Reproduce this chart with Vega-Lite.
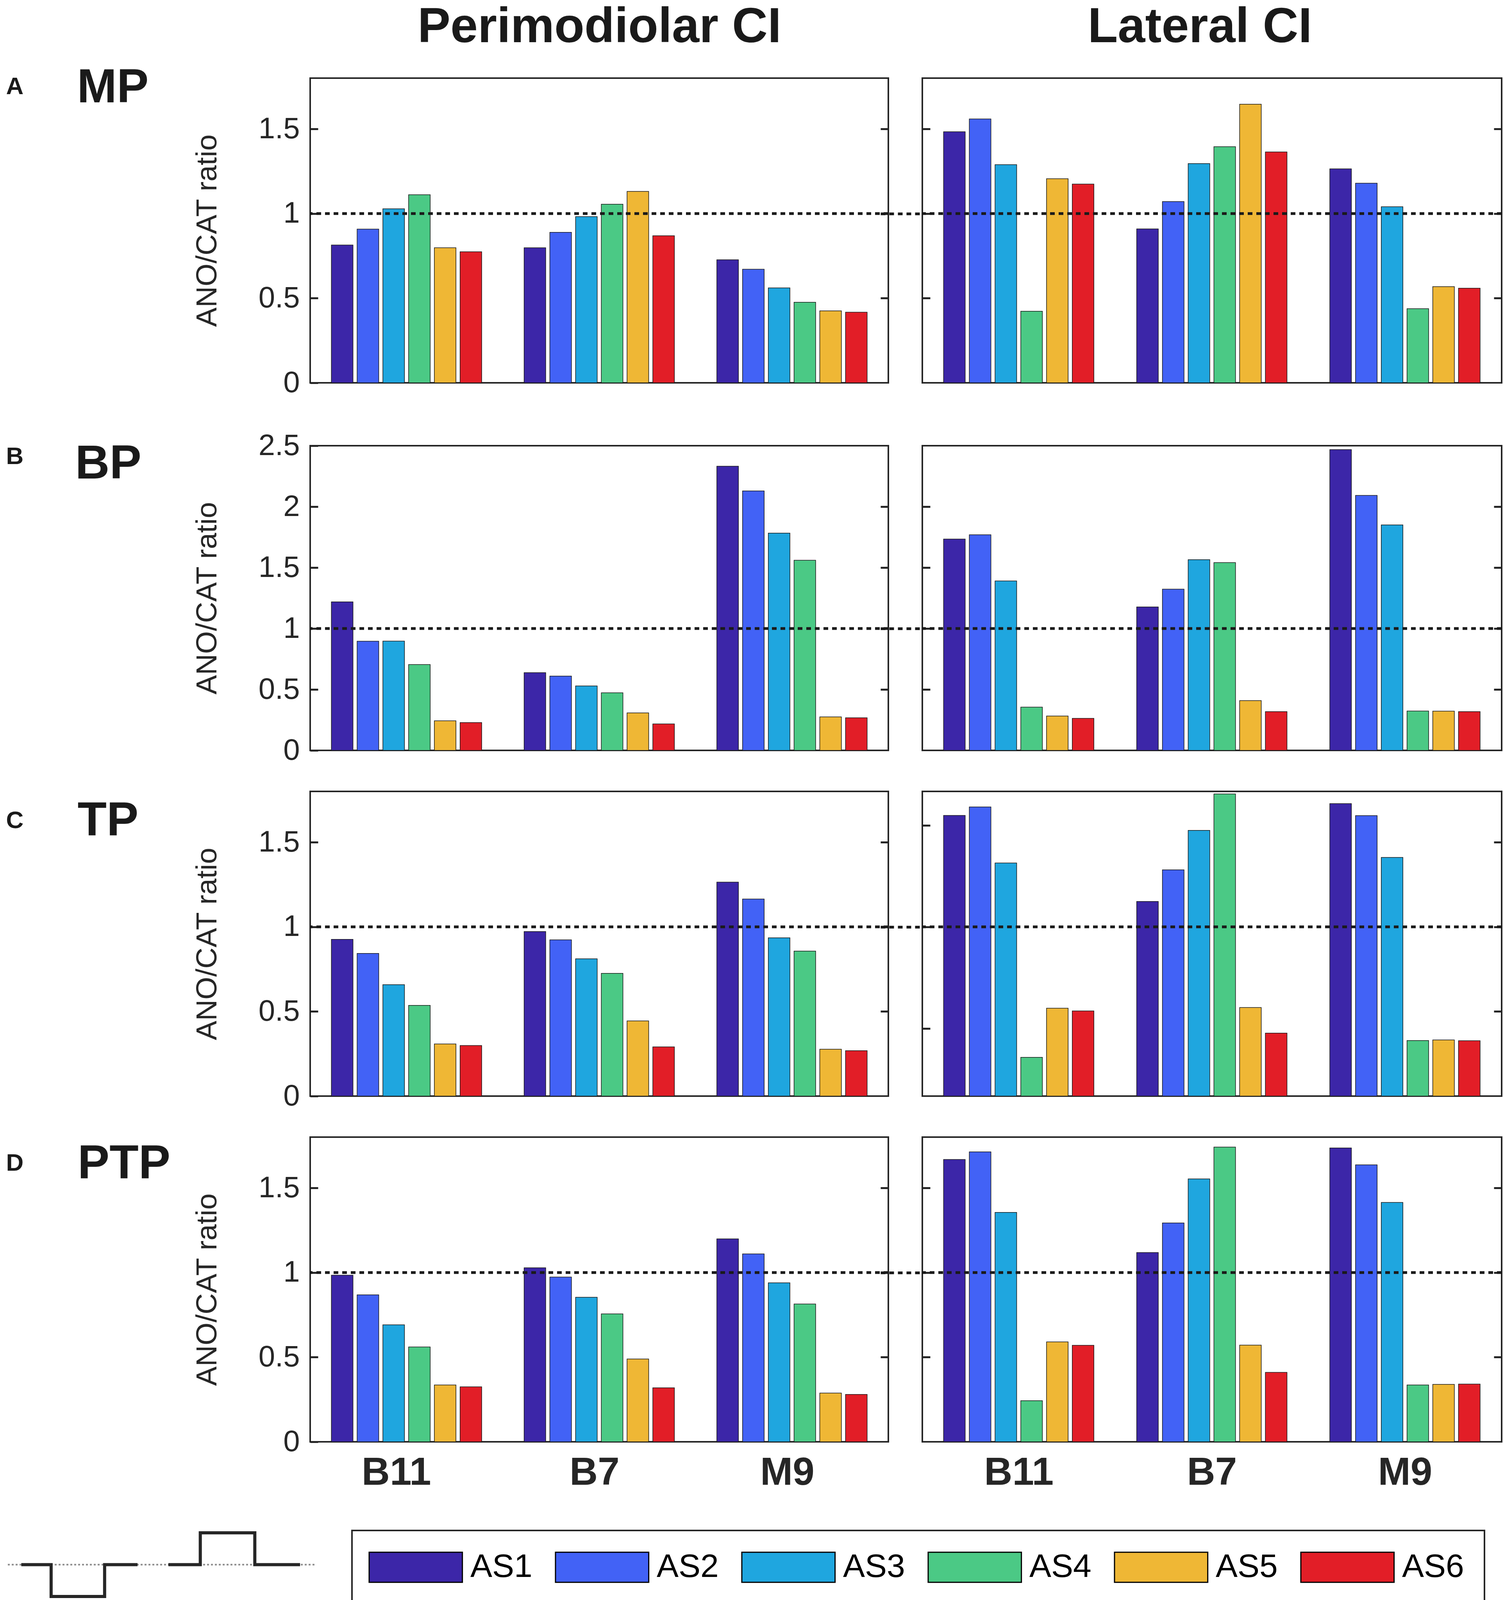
{
  "$schema": "https://vega.github.io/schema/vega-lite/v6.json",
  "background": "white",
  "padding": {"left": 13, "top": 4, "right": 0, "bottom": 0},
  "autosize": {"type": "pad"},
  "datasets": {
    "ratios": [
      {"pulse": "MP", "ci": "Perimodiolar", "electrode": "B11", "as": "AS1", "ratio": 0.814},
      {"pulse": "MP", "ci": "Perimodiolar", "electrode": "B11", "as": "AS2", "ratio": 0.908},
      {"pulse": "MP", "ci": "Perimodiolar", "electrode": "B11", "as": "AS3", "ratio": 1.028},
      {"pulse": "MP", "ci": "Perimodiolar", "electrode": "B11", "as": "AS4", "ratio": 1.111},
      {"pulse": "MP", "ci": "Perimodiolar", "electrode": "B11", "as": "AS5", "ratio": 0.798},
      {"pulse": "MP", "ci": "Perimodiolar", "electrode": "B11", "as": "AS6", "ratio": 0.774},
      {"pulse": "MP", "ci": "Perimodiolar", "electrode": "B7", "as": "AS1", "ratio": 0.798},
      {"pulse": "MP", "ci": "Perimodiolar", "electrode": "B7", "as": "AS2", "ratio": 0.889},
      {"pulse": "MP", "ci": "Perimodiolar", "electrode": "B7", "as": "AS3", "ratio": 0.982},
      {"pulse": "MP", "ci": "Perimodiolar", "electrode": "B7", "as": "AS4", "ratio": 1.055},
      {"pulse": "MP", "ci": "Perimodiolar", "electrode": "B7", "as": "AS5", "ratio": 1.131},
      {"pulse": "MP", "ci": "Perimodiolar", "electrode": "B7", "as": "AS6", "ratio": 0.869},
      {"pulse": "MP", "ci": "Perimodiolar", "electrode": "M9", "as": "AS1", "ratio": 0.727},
      {"pulse": "MP", "ci": "Perimodiolar", "electrode": "M9", "as": "AS2", "ratio": 0.671},
      {"pulse": "MP", "ci": "Perimodiolar", "electrode": "M9", "as": "AS3", "ratio": 0.561},
      {"pulse": "MP", "ci": "Perimodiolar", "electrode": "M9", "as": "AS4", "ratio": 0.476},
      {"pulse": "MP", "ci": "Perimodiolar", "electrode": "M9", "as": "AS5", "ratio": 0.425},
      {"pulse": "MP", "ci": "Perimodiolar", "electrode": "M9", "as": "AS6", "ratio": 0.417},
      {"pulse": "MP", "ci": "Lateral", "electrode": "B11", "as": "AS1", "ratio": 1.483},
      {"pulse": "MP", "ci": "Lateral", "electrode": "B11", "as": "AS2", "ratio": 1.559},
      {"pulse": "MP", "ci": "Lateral", "electrode": "B11", "as": "AS3", "ratio": 1.289},
      {"pulse": "MP", "ci": "Lateral", "electrode": "B11", "as": "AS4", "ratio": 0.423},
      {"pulse": "MP", "ci": "Lateral", "electrode": "B11", "as": "AS5", "ratio": 1.206},
      {"pulse": "MP", "ci": "Lateral", "electrode": "B11", "as": "AS6", "ratio": 1.174},
      {"pulse": "MP", "ci": "Lateral", "electrode": "B7", "as": "AS1", "ratio": 0.909},
      {"pulse": "MP", "ci": "Lateral", "electrode": "B7", "as": "AS2", "ratio": 1.071},
      {"pulse": "MP", "ci": "Lateral", "electrode": "B7", "as": "AS3", "ratio": 1.295},
      {"pulse": "MP", "ci": "Lateral", "electrode": "B7", "as": "AS4", "ratio": 1.395},
      {"pulse": "MP", "ci": "Lateral", "electrode": "B7", "as": "AS5", "ratio": 1.646},
      {"pulse": "MP", "ci": "Lateral", "electrode": "B7", "as": "AS6", "ratio": 1.364},
      {"pulse": "MP", "ci": "Lateral", "electrode": "M9", "as": "AS1", "ratio": 1.264},
      {"pulse": "MP", "ci": "Lateral", "electrode": "M9", "as": "AS2", "ratio": 1.179},
      {"pulse": "MP", "ci": "Lateral", "electrode": "M9", "as": "AS3", "ratio": 1.040},
      {"pulse": "MP", "ci": "Lateral", "electrode": "M9", "as": "AS4", "ratio": 0.438},
      {"pulse": "MP", "ci": "Lateral", "electrode": "M9", "as": "AS5", "ratio": 0.568},
      {"pulse": "MP", "ci": "Lateral", "electrode": "M9", "as": "AS6", "ratio": 0.559},
      {"pulse": "BP", "ci": "Perimodiolar", "electrode": "B11", "as": "AS1", "ratio": 1.219},
      {"pulse": "BP", "ci": "Perimodiolar", "electrode": "B11", "as": "AS2", "ratio": 0.896},
      {"pulse": "BP", "ci": "Perimodiolar", "electrode": "B11", "as": "AS3", "ratio": 0.897},
      {"pulse": "BP", "ci": "Perimodiolar", "electrode": "B11", "as": "AS4", "ratio": 0.704},
      {"pulse": "BP", "ci": "Perimodiolar", "electrode": "B11", "as": "AS5", "ratio": 0.243},
      {"pulse": "BP", "ci": "Perimodiolar", "electrode": "B11", "as": "AS6", "ratio": 0.228},
      {"pulse": "BP", "ci": "Perimodiolar", "electrode": "B7", "as": "AS1", "ratio": 0.638},
      {"pulse": "BP", "ci": "Perimodiolar", "electrode": "B7", "as": "AS2", "ratio": 0.610},
      {"pulse": "BP", "ci": "Perimodiolar", "electrode": "B7", "as": "AS3", "ratio": 0.529},
      {"pulse": "BP", "ci": "Perimodiolar", "electrode": "B7", "as": "AS4", "ratio": 0.473},
      {"pulse": "BP", "ci": "Perimodiolar", "electrode": "B7", "as": "AS5", "ratio": 0.308},
      {"pulse": "BP", "ci": "Perimodiolar", "electrode": "B7", "as": "AS6", "ratio": 0.217},
      {"pulse": "BP", "ci": "Perimodiolar", "electrode": "M9", "as": "AS1", "ratio": 2.332},
      {"pulse": "BP", "ci": "Perimodiolar", "electrode": "M9", "as": "AS2", "ratio": 2.129},
      {"pulse": "BP", "ci": "Perimodiolar", "electrode": "M9", "as": "AS3", "ratio": 1.783},
      {"pulse": "BP", "ci": "Perimodiolar", "electrode": "M9", "as": "AS4", "ratio": 1.560},
      {"pulse": "BP", "ci": "Perimodiolar", "electrode": "M9", "as": "AS5", "ratio": 0.275},
      {"pulse": "BP", "ci": "Perimodiolar", "electrode": "M9", "as": "AS6", "ratio": 0.268},
      {"pulse": "BP", "ci": "Lateral", "electrode": "B11", "as": "AS1", "ratio": 1.734},
      {"pulse": "BP", "ci": "Lateral", "electrode": "B11", "as": "AS2", "ratio": 1.769},
      {"pulse": "BP", "ci": "Lateral", "electrode": "B11", "as": "AS3", "ratio": 1.390},
      {"pulse": "BP", "ci": "Lateral", "electrode": "B11", "as": "AS4", "ratio": 0.355},
      {"pulse": "BP", "ci": "Lateral", "electrode": "B11", "as": "AS5", "ratio": 0.282},
      {"pulse": "BP", "ci": "Lateral", "electrode": "B11", "as": "AS6", "ratio": 0.263},
      {"pulse": "BP", "ci": "Lateral", "electrode": "B7", "as": "AS1", "ratio": 1.177},
      {"pulse": "BP", "ci": "Lateral", "electrode": "B7", "as": "AS2", "ratio": 1.323},
      {"pulse": "BP", "ci": "Lateral", "electrode": "B7", "as": "AS3", "ratio": 1.565},
      {"pulse": "BP", "ci": "Lateral", "electrode": "B7", "as": "AS4", "ratio": 1.541},
      {"pulse": "BP", "ci": "Lateral", "electrode": "B7", "as": "AS5", "ratio": 0.409},
      {"pulse": "BP", "ci": "Lateral", "electrode": "B7", "as": "AS6", "ratio": 0.318},
      {"pulse": "BP", "ci": "Lateral", "electrode": "M9", "as": "AS1", "ratio": 2.468},
      {"pulse": "BP", "ci": "Lateral", "electrode": "M9", "as": "AS2", "ratio": 2.092},
      {"pulse": "BP", "ci": "Lateral", "electrode": "M9", "as": "AS3", "ratio": 1.850},
      {"pulse": "BP", "ci": "Lateral", "electrode": "M9", "as": "AS4", "ratio": 0.323},
      {"pulse": "BP", "ci": "Lateral", "electrode": "M9", "as": "AS5", "ratio": 0.322},
      {"pulse": "BP", "ci": "Lateral", "electrode": "M9", "as": "AS6", "ratio": 0.318},
      {"pulse": "TP", "ci": "Perimodiolar", "electrode": "B11", "as": "AS1", "ratio": 0.926},
      {"pulse": "TP", "ci": "Perimodiolar", "electrode": "B11", "as": "AS2", "ratio": 0.843},
      {"pulse": "TP", "ci": "Perimodiolar", "electrode": "B11", "as": "AS3", "ratio": 0.658},
      {"pulse": "TP", "ci": "Perimodiolar", "electrode": "B11", "as": "AS4", "ratio": 0.536},
      {"pulse": "TP", "ci": "Perimodiolar", "electrode": "B11", "as": "AS5", "ratio": 0.308},
      {"pulse": "TP", "ci": "Perimodiolar", "electrode": "B11", "as": "AS6", "ratio": 0.299},
      {"pulse": "TP", "ci": "Perimodiolar", "electrode": "B7", "as": "AS1", "ratio": 0.972},
      {"pulse": "TP", "ci": "Perimodiolar", "electrode": "B7", "as": "AS2", "ratio": 0.923},
      {"pulse": "TP", "ci": "Perimodiolar", "electrode": "B7", "as": "AS3", "ratio": 0.811},
      {"pulse": "TP", "ci": "Perimodiolar", "electrode": "B7", "as": "AS4", "ratio": 0.725},
      {"pulse": "TP", "ci": "Perimodiolar", "electrode": "B7", "as": "AS5", "ratio": 0.444},
      {"pulse": "TP", "ci": "Perimodiolar", "electrode": "B7", "as": "AS6", "ratio": 0.291},
      {"pulse": "TP", "ci": "Perimodiolar", "electrode": "M9", "as": "AS1", "ratio": 1.264},
      {"pulse": "TP", "ci": "Perimodiolar", "electrode": "M9", "as": "AS2", "ratio": 1.164},
      {"pulse": "TP", "ci": "Perimodiolar", "electrode": "M9", "as": "AS3", "ratio": 0.935},
      {"pulse": "TP", "ci": "Perimodiolar", "electrode": "M9", "as": "AS4", "ratio": 0.857},
      {"pulse": "TP", "ci": "Perimodiolar", "electrode": "M9", "as": "AS5", "ratio": 0.277},
      {"pulse": "TP", "ci": "Perimodiolar", "electrode": "M9", "as": "AS6", "ratio": 0.268},
      {"pulse": "TP", "ci": "Lateral", "electrode": "B11", "as": "AS1", "ratio": 1.658},
      {"pulse": "TP", "ci": "Lateral", "electrode": "B11", "as": "AS2", "ratio": 1.708},
      {"pulse": "TP", "ci": "Lateral", "electrode": "B11", "as": "AS3", "ratio": 1.377},
      {"pulse": "TP", "ci": "Lateral", "electrode": "B11", "as": "AS4", "ratio": 0.229},
      {"pulse": "TP", "ci": "Lateral", "electrode": "B11", "as": "AS5", "ratio": 0.519},
      {"pulse": "TP", "ci": "Lateral", "electrode": "B11", "as": "AS6", "ratio": 0.503},
      {"pulse": "TP", "ci": "Lateral", "electrode": "B7", "as": "AS1", "ratio": 1.150},
      {"pulse": "TP", "ci": "Lateral", "electrode": "B7", "as": "AS2", "ratio": 1.337},
      {"pulse": "TP", "ci": "Lateral", "electrode": "B7", "as": "AS3", "ratio": 1.570},
      {"pulse": "TP", "ci": "Lateral", "electrode": "B7", "as": "AS4", "ratio": 1.785},
      {"pulse": "TP", "ci": "Lateral", "electrode": "B7", "as": "AS5", "ratio": 0.523},
      {"pulse": "TP", "ci": "Lateral", "electrode": "B7", "as": "AS6", "ratio": 0.372},
      {"pulse": "TP", "ci": "Lateral", "electrode": "M9", "as": "AS1", "ratio": 1.728},
      {"pulse": "TP", "ci": "Lateral", "electrode": "M9", "as": "AS2", "ratio": 1.657},
      {"pulse": "TP", "ci": "Lateral", "electrode": "M9", "as": "AS3", "ratio": 1.410},
      {"pulse": "TP", "ci": "Lateral", "electrode": "M9", "as": "AS4", "ratio": 0.328},
      {"pulse": "TP", "ci": "Lateral", "electrode": "M9", "as": "AS5", "ratio": 0.332},
      {"pulse": "TP", "ci": "Lateral", "electrode": "M9", "as": "AS6", "ratio": 0.327},
      {"pulse": "PTP", "ci": "Perimodiolar", "electrode": "B11", "as": "AS1", "ratio": 0.984},
      {"pulse": "PTP", "ci": "Perimodiolar", "electrode": "B11", "as": "AS2", "ratio": 0.868},
      {"pulse": "PTP", "ci": "Perimodiolar", "electrode": "B11", "as": "AS3", "ratio": 0.691},
      {"pulse": "PTP", "ci": "Perimodiolar", "electrode": "B11", "as": "AS4", "ratio": 0.560},
      {"pulse": "PTP", "ci": "Perimodiolar", "electrode": "B11", "as": "AS5", "ratio": 0.336},
      {"pulse": "PTP", "ci": "Perimodiolar", "electrode": "B11", "as": "AS6", "ratio": 0.325},
      {"pulse": "PTP", "ci": "Perimodiolar", "electrode": "B7", "as": "AS1", "ratio": 1.028},
      {"pulse": "PTP", "ci": "Perimodiolar", "electrode": "B7", "as": "AS2", "ratio": 0.973},
      {"pulse": "PTP", "ci": "Perimodiolar", "electrode": "B7", "as": "AS3", "ratio": 0.854},
      {"pulse": "PTP", "ci": "Perimodiolar", "electrode": "B7", "as": "AS4", "ratio": 0.756},
      {"pulse": "PTP", "ci": "Perimodiolar", "electrode": "B7", "as": "AS5", "ratio": 0.489},
      {"pulse": "PTP", "ci": "Perimodiolar", "electrode": "B7", "as": "AS6", "ratio": 0.319},
      {"pulse": "PTP", "ci": "Perimodiolar", "electrode": "M9", "as": "AS1", "ratio": 1.199},
      {"pulse": "PTP", "ci": "Perimodiolar", "electrode": "M9", "as": "AS2", "ratio": 1.110},
      {"pulse": "PTP", "ci": "Perimodiolar", "electrode": "M9", "as": "AS3", "ratio": 0.939},
      {"pulse": "PTP", "ci": "Perimodiolar", "electrode": "M9", "as": "AS4", "ratio": 0.814},
      {"pulse": "PTP", "ci": "Perimodiolar", "electrode": "M9", "as": "AS5", "ratio": 0.288},
      {"pulse": "PTP", "ci": "Perimodiolar", "electrode": "M9", "as": "AS6", "ratio": 0.280},
      {"pulse": "PTP", "ci": "Lateral", "electrode": "B11", "as": "AS1", "ratio": 1.668},
      {"pulse": "PTP", "ci": "Lateral", "electrode": "B11", "as": "AS2", "ratio": 1.713},
      {"pulse": "PTP", "ci": "Lateral", "electrode": "B11", "as": "AS3", "ratio": 1.355},
      {"pulse": "PTP", "ci": "Lateral", "electrode": "B11", "as": "AS4", "ratio": 0.243},
      {"pulse": "PTP", "ci": "Lateral", "electrode": "B11", "as": "AS5", "ratio": 0.590},
      {"pulse": "PTP", "ci": "Lateral", "electrode": "B11", "as": "AS6", "ratio": 0.570},
      {"pulse": "PTP", "ci": "Lateral", "electrode": "B7", "as": "AS1", "ratio": 1.118},
      {"pulse": "PTP", "ci": "Lateral", "electrode": "B7", "as": "AS2", "ratio": 1.293},
      {"pulse": "PTP", "ci": "Lateral", "electrode": "B7", "as": "AS3", "ratio": 1.553},
      {"pulse": "PTP", "ci": "Lateral", "electrode": "B7", "as": "AS4", "ratio": 1.741},
      {"pulse": "PTP", "ci": "Lateral", "electrode": "B7", "as": "AS5", "ratio": 0.571},
      {"pulse": "PTP", "ci": "Lateral", "electrode": "B7", "as": "AS6", "ratio": 0.410},
      {"pulse": "PTP", "ci": "Lateral", "electrode": "M9", "as": "AS1", "ratio": 1.736},
      {"pulse": "PTP", "ci": "Lateral", "electrode": "M9", "as": "AS2", "ratio": 1.636},
      {"pulse": "PTP", "ci": "Lateral", "electrode": "M9", "as": "AS3", "ratio": 1.414},
      {"pulse": "PTP", "ci": "Lateral", "electrode": "M9", "as": "AS4", "ratio": 0.336},
      {"pulse": "PTP", "ci": "Lateral", "electrode": "M9", "as": "AS5", "ratio": 0.339},
      {"pulse": "PTP", "ci": "Lateral", "electrode": "M9", "as": "AS6", "ratio": 0.341}
    ],
    "stimulus": [
      {"phase": "cathodic", "i": 1, "t": 20, "amp": 0},
      {"phase": "cathodic", "i": 2, "t": 49, "amp": 0},
      {"phase": "cathodic", "i": 3, "t": 49, "amp": -1},
      {"phase": "cathodic", "i": 4, "t": 101, "amp": -1},
      {"phase": "cathodic", "i": 5, "t": 101, "amp": 0},
      {"phase": "cathodic", "i": 6, "t": 133, "amp": 0},
      {"phase": "anodic", "i": 7, "t": 163, "amp": 0},
      {"phase": "anodic", "i": 8, "t": 194, "amp": 0},
      {"phase": "anodic", "i": 9, "t": 194, "amp": 1},
      {"phase": "anodic", "i": 10, "t": 247, "amp": 1},
      {"phase": "anodic", "i": 11, "t": 247, "amp": 0},
      {"phase": "anodic", "i": 12, "t": 291, "amp": 0}
    ]
  },
  "config": {
    "font": "Liberation Sans",
    "view": {"stroke": "#262626", "strokeWidth": 4},
    "range": {"category": ["#3c26a8", "#4262f6", "#1fa6df", "#4bc985", "#efb735", "#e21e27"]},
    "scale": {"bandWithNestedOffsetPaddingInner": 0.22, "bandWithNestedOffsetPaddingOuter": 0.11, "offsetBandPaddingInner": 0.16, "offsetBandPaddingOuter": 0},
    "axis": {"grid": false, "domain": false, "labelColor": "#262626", "titleColor": "#262626", "tickColor": "#262626"},
    "axisY": {"offset": -20, "tickSize": 20, "tickWidth": 5, "labelFontSize": 76, "labelPadding": 27, "titleFontSize": 75, "titleFontWeight": "normal", "titlePadding": 92},
    "axisX": {"ticks": false, "tickSize": 0, "labelAngle": 0, "labelFontSize": 100, "labelFontWeight": "bold", "labelPadding": 30, "titleFontSize": 126, "titleFontWeight": "bold", "titlePadding": 67, "titleColor": "#1a1a1a"},
    "title": {"orient": "left", "angle": 0, "anchor": "end", "frame": "group", "baseline": "top", "align": "left", "offset": 0, "font": "Liberation Sans", "fontWeight": "bold", "color": "#1a1a1a"},
    "legend": {"strokeColor": "#262626", "strokeWidth": 4, "fillColor": "#ffffff", "padding": 52, "labelFontSize": 84, "labelColor": "#000000", "labelOffset": 167, "columnPadding": 52, "symbolStrokeColor": "#000000", "symbolStrokeWidth": 3, "symbolOpacity": 1}
  },
  "columns": 1,
  "align": "none",
  "spacing": 81,
  "concat": [
    {
      "spacing": 87, "bounds": "flush",
      "hconcat": [
        {
          "width": 692, "height": 780,
          "view": {"stroke": null},
          "title": {"text": "A", "fontSize": 62, "offset": -90, "dy": -8},
          "data": {"values": [{"panel": "A"}]},
          "mark": {"type": "point", "opacity": 0, "size": 0}
        },
        {
          "width": 1480, "height": 780,
          "title": {"text": "MP", "fontSize": 122, "dx": 74, "dy": -34},
          "layer": [
            {
              "data": {"name": "ratios"},
              "transform": [{"filter": "datum.pulse === 'MP' && datum.ci === 'Perimodiolar'"}],
              "mark": {"type": "bar", "stroke": "#1a1a1a", "strokeWidth": 1.5},
              "encoding": {
                "x": {"field": "electrode", "type": "nominal", "sort": ["B11", "B7", "M9"], "axis": {"orient": "top", "title": "Perimodiolar CI", "labels": false}},
                "xOffset": {"field": "as", "type": "nominal"},
                "y": {"field": "ratio", "type": "quantitative", "scale": {"domain": [0, 1.8], "nice": false}, "axis": {"values": [0, 0.5, 1, 1.5], "format": "~g", "title": "ANO/CAT ratio"}},
                "color": {"field": "as", "type": "nominal", "legend": {"orient": "none", "legendX": 886, "legendY": 3718, "direction": "horizontal", "columns": 6, "title": null, "symbolType": "M-1.3,-1H4.9V1H-1.3Z", "symbolSize": 5929}}
              }
            },
            {
              "data": {"values": [{"ref": 1}]},
              "mark": {"type": "rule", "color": "#1a1a1a", "strokeWidth": 7, "strokeDash": [12, 10]},
              "encoding": {"y": {"field": "ref", "type": "quantitative", "axis": {"orient": "right", "values": [0.5, 1, 1.5], "labels": false, "title": null, "tickSize": {"condition": {"test": "datum.value === 1", "value": 107}, "value": 20}, "tickDash": {"condition": {"test": "datum.value === 1", "value": [12, 10]}, "value": []}, "tickWidth": {"condition": {"test": "datum.value === 1", "value": 7}, "value": 5}, "tickColor": {"condition": {"test": "datum.value === 1", "value": "#1a1a1a"}, "value": "#262626"}}}}
            }
          ],
          "resolve": {"axis": {"y": "independent"}}
        },
        {
          "width": 1483, "height": 780,
          "layer": [
            {
              "data": {"name": "ratios"},
              "transform": [{"filter": "datum.pulse === 'MP' && datum.ci === 'Lateral'"}],
              "mark": {"type": "bar", "stroke": "#1a1a1a", "strokeWidth": 1.5},
              "encoding": {
                "x": {"field": "electrode", "type": "nominal", "sort": ["B11", "B7", "M9"], "axis": {"orient": "top", "title": "Lateral CI", "labels": false, "titleX": 710}},
                "xOffset": {"field": "as", "type": "nominal"},
                "y": {"field": "ratio", "type": "quantitative", "scale": {"domain": [0, 1.8], "nice": false}, "axis": {"values": [0.5, 1, 1.5], "labels": false, "title": null}},
                "color": {"field": "as", "type": "nominal"}
              }
            },
            {
              "data": {"values": [{"ref": 1}]},
              "mark": {"type": "rule", "color": "#1a1a1a", "strokeWidth": 7, "strokeDash": [12, 10]},
              "encoding": {"y": {"field": "ref", "type": "quantitative", "axis": {"orient": "right", "values": [0.5, 1, 1.5], "labels": false, "title": null}}}
            }
          ],
          "resolve": {"axis": {"y": "independent"}}
        }
      ]
    },
    {
      "columns": 1,
      "align": "none",
      "spacing": 86,
      "concat": [
        {
          "spacing": 63,
          "vconcat": [
            {
              "spacing": 87, "bounds": "flush",
              "hconcat": [
                {
                  "width": 692, "height": 780,
                  "view": {"stroke": null},
                  "title": {"text": "B", "fontSize": 62, "offset": -90, "dy": -2},
                  "data": {"values": [{"panel": "B"}]},
                  "mark": {"type": "point", "opacity": 0, "size": 0}
                },
                {
                  "width": 1480, "height": 780,
                  "title": {"text": "BP", "fontSize": 122, "dx": 42, "dy": -12},
                  "layer": [
                    {
                      "data": {"name": "ratios"},
                      "transform": [{"filter": "datum.pulse === 'BP' && datum.ci === 'Perimodiolar'"}],
                      "mark": {"type": "bar", "stroke": "#1a1a1a", "strokeWidth": 1.5},
                      "encoding": {
                        "x": {"field": "electrode", "type": "nominal", "sort": ["B11", "B7", "M9"], "axis": null},
                        "xOffset": {"field": "as", "type": "nominal"},
                        "y": {"field": "ratio", "type": "quantitative", "scale": {"domain": [0, 2.5], "nice": false}, "axis": {"values": [0, 0.5, 1, 1.5, 2, 2.5], "format": "~g", "title": "ANO/CAT ratio"}},
                        "color": {"field": "as", "type": "nominal"}
                      }
                    },
                    {
                      "data": {"values": [{"ref": 1}]},
                      "mark": {"type": "rule", "color": "#1a1a1a", "strokeWidth": 7, "strokeDash": [12, 10]},
                      "encoding": {"y": {"field": "ref", "type": "quantitative", "axis": {"orient": "right", "values": [0.5, 1, 1.5, 2], "labels": false, "title": null, "tickSize": {"condition": {"test": "datum.value === 1", "value": 107}, "value": 20}, "tickDash": {"condition": {"test": "datum.value === 1", "value": [12, 10]}, "value": []}, "tickWidth": {"condition": {"test": "datum.value === 1", "value": 7}, "value": 5}, "tickColor": {"condition": {"test": "datum.value === 1", "value": "#1a1a1a"}, "value": "#262626"}}}}
                    }
                  ],
                  "resolve": {"axis": {"y": "independent"}}
                },
                {
                  "width": 1483, "height": 780,
                  "layer": [
                    {
                      "data": {"name": "ratios"},
                      "transform": [{"filter": "datum.pulse === 'BP' && datum.ci === 'Lateral'"}],
                      "mark": {"type": "bar", "stroke": "#1a1a1a", "strokeWidth": 1.5},
                      "encoding": {
                        "x": {"field": "electrode", "type": "nominal", "sort": ["B11", "B7", "M9"], "axis": null},
                        "xOffset": {"field": "as", "type": "nominal"},
                        "y": {"field": "ratio", "type": "quantitative", "scale": {"domain": [0, 2.5], "nice": false}, "axis": {"values": [0.5, 1, 1.5, 2], "labels": false, "title": null}},
                        "color": {"field": "as", "type": "nominal"}
                      }
                    },
                    {
                      "data": {"values": [{"ref": 1}]},
                      "mark": {"type": "rule", "color": "#1a1a1a", "strokeWidth": 7, "strokeDash": [12, 10]},
                      "encoding": {"y": {"field": "ref", "type": "quantitative", "axis": {"orient": "right", "values": [0.5, 1, 1.5, 2], "labels": false, "title": null}}}
                    }
                  ],
                  "resolve": {"axis": {"y": "independent"}}
                }
              ]
            },
            {
              "spacing": 87, "bounds": "flush",
              "hconcat": [
                {
                  "width": 692, "height": 780,
                  "view": {"stroke": null},
                  "title": {"text": "C", "fontSize": 62, "offset": -90, "dy": 45},
                  "data": {"values": [{"panel": "C"}]},
                  "mark": {"type": "point", "opacity": 0, "size": 0}
                },
                {
                  "width": 1480, "height": 780,
                  "title": {"text": "TP", "fontSize": 122, "dx": 21, "dy": 17},
                  "layer": [
                    {
                      "data": {"name": "ratios"},
                      "transform": [{"filter": "datum.pulse === 'TP' && datum.ci === 'Perimodiolar'"}],
                      "mark": {"type": "bar", "stroke": "#1a1a1a", "strokeWidth": 1.5},
                      "encoding": {
                        "x": {"field": "electrode", "type": "nominal", "sort": ["B11", "B7", "M9"], "axis": null},
                        "xOffset": {"field": "as", "type": "nominal"},
                        "y": {"field": "ratio", "type": "quantitative", "scale": {"domain": [0, 1.8], "nice": false}, "axis": {"values": [0, 0.5, 1, 1.5], "format": "~g", "title": "ANO/CAT ratio"}},
                        "color": {"field": "as", "type": "nominal"}
                      }
                    },
                    {
                      "data": {"values": [{"ref": 1}]},
                      "mark": {"type": "rule", "color": "#1a1a1a", "strokeWidth": 7, "strokeDash": [12, 10]},
                      "encoding": {"y": {"field": "ref", "type": "quantitative", "axis": {"orient": "right", "values": [0.5, 1, 1.5], "labels": false, "title": null, "tickSize": {"condition": {"test": "datum.value === 1", "value": 107}, "value": 20}, "tickDash": {"condition": {"test": "datum.value === 1", "value": [12, 10]}, "value": []}, "tickWidth": {"condition": {"test": "datum.value === 1", "value": 7}, "value": 5}, "tickColor": {"condition": {"test": "datum.value === 1", "value": "#1a1a1a"}, "value": "#262626"}}}}
                    }
                  ],
                  "resolve": {"axis": {"y": "independent"}}
                },
                {
                  "width": 1483, "height": 780,
                  "layer": [
                    {
                      "data": {"name": "ratios"},
                      "transform": [{"filter": "datum.pulse === 'TP' && datum.ci === 'Lateral'"}],
                      "mark": {"type": "bar", "stroke": "#1a1a1a", "strokeWidth": 1.5},
                      "encoding": {
                        "x": {"field": "electrode", "type": "nominal", "sort": ["B11", "B7", "M9"], "axis": null},
                        "xOffset": {"field": "as", "type": "nominal"},
                        "y": {"field": "ratio", "type": "quantitative", "scale": {"domain": [0, 1.8], "nice": false}, "axis": {"values": [0.4, 1, 1.6], "labels": false, "title": null}},
                        "color": {"field": "as", "type": "nominal"}
                      }
                    },
                    {
                      "data": {"values": [{"ref": 1}]},
                      "mark": {"type": "rule", "color": "#1a1a1a", "strokeWidth": 7, "strokeDash": [12, 10]},
                      "encoding": {"y": {"field": "ref", "type": "quantitative", "axis": {"orient": "right", "values": [0.5, 1, 1.5], "labels": false, "title": null}}}
                    }
                  ],
                  "resolve": {"axis": {"y": "independent"}}
                }
              ]
            },
            {
              "spacing": 87, "bounds": "flush",
              "hconcat": [
                {
                  "width": 692, "height": 780,
                  "view": {"stroke": null},
                  "title": {"text": "D", "fontSize": 62, "offset": -90, "dy": 37},
                  "data": {"values": [{"panel": "D"}]},
                  "mark": {"type": "point", "opacity": 0, "size": 0}
                },
                {
                  "width": 1480, "height": 780,
                  "title": {"text": "PTP", "fontSize": 122, "dx": 184, "dy": 10},
                  "layer": [
                    {
                      "data": {"name": "ratios"},
                      "transform": [{"filter": "datum.pulse === 'PTP' && datum.ci === 'Perimodiolar'"}],
                      "mark": {"type": "bar", "stroke": "#1a1a1a", "strokeWidth": 1.5},
                      "encoding": {
                        "x": {"field": "electrode", "type": "nominal", "sort": ["B11", "B7", "M9"], "axis": {"title": null, "labelOffset": {"condition": {"test": "datum.value === 'B11'", "value": -26}, "value": -12}}},
                        "xOffset": {"field": "as", "type": "nominal"},
                        "y": {"field": "ratio", "type": "quantitative", "scale": {"domain": [0, 1.8], "nice": false}, "axis": {"values": [0, 0.5, 1, 1.5], "format": "~g", "title": "ANO/CAT ratio"}},
                        "color": {"field": "as", "type": "nominal"}
                      }
                    },
                    {
                      "data": {"values": [{"ref": 1}]},
                      "mark": {"type": "rule", "color": "#1a1a1a", "strokeWidth": 7, "strokeDash": [12, 10]},
                      "encoding": {"y": {"field": "ref", "type": "quantitative", "axis": {"orient": "right", "values": [0.5, 1, 1.5], "labels": false, "title": null, "tickSize": {"condition": {"test": "datum.value === 1", "value": 107}, "value": 20}, "tickDash": {"condition": {"test": "datum.value === 1", "value": [12, 10]}, "value": []}, "tickWidth": {"condition": {"test": "datum.value === 1", "value": 7}, "value": 5}, "tickColor": {"condition": {"test": "datum.value === 1", "value": "#1a1a1a"}, "value": "#262626"}}}}
                    }
                  ],
                  "resolve": {"axis": {"y": "independent"}}
                },
                {
                  "width": 1483, "height": 780,
                  "layer": [
                    {
                      "data": {"name": "ratios"},
                      "transform": [{"filter": "datum.pulse === 'PTP' && datum.ci === 'Lateral'"}],
                      "mark": {"type": "bar", "stroke": "#1a1a1a", "strokeWidth": 1.5},
                      "encoding": {
                        "x": {"field": "electrode", "type": "nominal", "sort": ["B11", "B7", "M9"], "axis": {"title": null}},
                        "xOffset": {"field": "as", "type": "nominal"},
                        "y": {"field": "ratio", "type": "quantitative", "scale": {"domain": [0, 1.8], "nice": false}, "axis": {"values": [0.5, 1, 1.5], "labels": false, "title": null}},
                        "color": {"field": "as", "type": "nominal"}
                      }
                    },
                    {
                      "data": {"values": [{"ref": 1}]},
                      "mark": {"type": "rule", "color": "#1a1a1a", "strokeWidth": 7, "strokeDash": [12, 10]},
                      "encoding": {"y": {"field": "ref", "type": "quantitative", "axis": {"orient": "right", "values": [0.5, 1, 1.5], "labels": false, "title": null}}}
                    }
                  ],
                  "resolve": {"axis": {"y": "independent"}}
                }
              ]
            }
          ]
        },
        {
          "width": 790, "height": 163,
          "view": {"stroke": null},
          "layer": [
            {
              "data": {"values": [{"ref": 0}]},
              "mark": {"type": "rule", "color": "#8c8c8c", "strokeWidth": 4, "strokeDash": [5, 5]},
              "encoding": {"y": {"field": "ref", "type": "quantitative", "scale": {"domain": [-1, 1], "nice": false}, "axis": null}}
            },
            {
              "data": {"name": "stimulus"},
              "mark": {"type": "line", "color": "#262626", "strokeWidth": 8, "strokeJoin": "miter", "strokeCap": "butt"},
              "encoding": {
                "x": {"field": "t", "type": "quantitative", "scale": {"domain": [5, 305], "nice": false}, "axis": null},
                "y": {"field": "amp", "type": "quantitative", "axis": null},
                "detail": {"field": "phase"},
                "order": {"field": "i"}
              }
            }
          ]
        }
      ]
    }
  ]
}
